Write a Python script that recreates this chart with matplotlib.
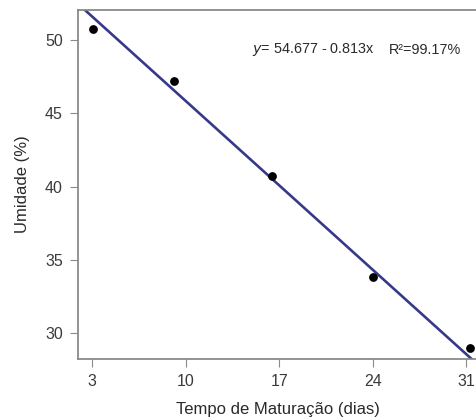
import numpy as np
import matplotlib.pyplot as plt

plt.rcParams['font.family'] = ['Liberation Sans', 'DejaVu Sans']

# Dados
dias = np.array([3.1, 9.1, 16.5, 24.0, 31.3])
umidade = np.array([50.75, 47.2, 40.7, 33.85, 29.0])

# Reta de regressão (como desenhada)
b0, b1 = 54.08, -0.823
eq_text = r'$y$= 54.677 - 0.813x'
r2_text = 'R²=99.17%'

x_ticks = [3, 10, 17, 24, 31]
y_ticks = [30, 35, 40, 45, 50]

fig = plt.figure(figsize=(4.77, 4.20), dpi=100)
ax = fig.add_axes([78 / 477, 1 - 359 / 420, 1 - 78 / 477, (359 - 10) / 420])

xs = np.linspace(1.9, 32, 50)
ax.plot(xs, b0 + b1 * xs, color='#38388a', lw=1.9, zorder=2)
ax.scatter(dias, umidade, s=28, color='black', zorder=3)

ax.set_xlim(1.95, 31.8)
ax.set_ylim(28.24, 52.05)
ax.set_xticks(x_ticks)
ax.set_yticks(y_ticks)

gray = '#8a8a8a'
for side in ['left', 'bottom', 'top']:
    ax.spines[side].set_color(gray)
    ax.spines[side].set_linewidth(1.3)
ax.spines['right'].set_visible(False)
ax.tick_params(colors=gray, length=6, width=0.8, labelsize=11.5,
               labelcolor='#3a3a3a', pad=5)

ax.set_xlabel('Tempo de Maturação (dias)', fontsize=12, color='#2a2a2a', labelpad=9)
ax.set_ylabel('Umidade (%)', fontsize=12, color='#2a2a2a', labelpad=11)

ax.text(252, 50, eq_text, transform=None, fontsize=10.4, color='#2a2a2a',
        va='center', ha='left')
ax.text(389, 50, r2_text, transform=None, fontsize=10.4, color='#2a2a2a',
        va='center', ha='left')

# transform=None uses display pixels measured from the bottom
for t in ax.texts:
    x, y = t.get_position()
    t.set_position((x, 420 - y))

fig.savefig('out.png', dpi=100)
